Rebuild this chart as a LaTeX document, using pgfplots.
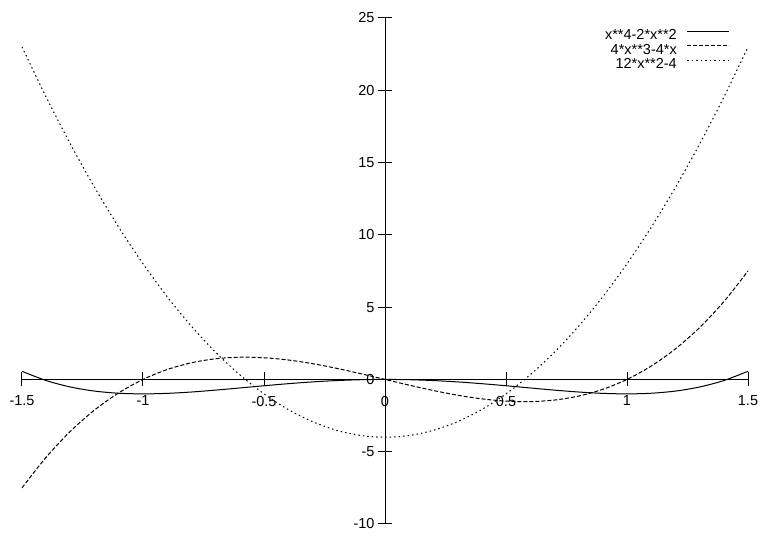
\documentclass[border=0pt]{standalone}
\usepackage{fontspec}
\setmainfont{Liberation Sans}
\usepackage{pgfplots}
\pgfplotsset{compat=1.18}
\begin{document}
\begin{tikzpicture}
\path[use as bounding box] (-22pt,-14pt) rectangle (742pt,524pt);
\begin{axis}[
  scale only axis,
  width=726pt, height=506pt,
  at={(0,0)}, anchor=south west,
  xmin=-1.5, xmax=1.5, ymin=-10, ymax=25,
  enlargelimits=false,
  axis lines=middle,
  axis line style={-, line width=1pt, black},
  every tick/.style={line width=1pt, black},
  major tick length=14pt,
  tick align=center,
  xtick={-1.5,-1,-0.5,0,0.5,1,1.5},
  xticklabels={-1.5,-1,-0.5,0,0.5,1,1.5},
  ytick={-10,-5,0,5,10,15,20,25},
  yticklabels={-10,-5,0,5,10,15,20,25},
  hide obscured x ticks=false,
  hide obscured y ticks=false,
  ticklabel style={font=\fontsize{14.5}{14.5}\selectfont},
  xticklabel style={yshift=-6pt},
  /pgf/number format/assume math mode=true,
  clip=false,
  legend cell align=right,
  legend plot pos=right,
  legend style={draw=none, fill=none, inner sep=0pt,
    at={(1,1)}, anchor=north east, xshift=-18pt, yshift=-11pt,
    font=\fontsize{14.5}{14.5}\selectfont,
    nodes={inner sep=0pt, text height=10.5pt, text depth=4pt},
    /tikz/column 1/.style={column sep=10pt}},
  legend image code/.code={\draw[#1] (0pt,5pt) -- (42pt,5pt);},
]
\addplot[black, line width=1pt, smooth] coordinates {
(-1.5,0.5625)(-1.4,-0.0784)(-1.3,-0.5239)(-1.2,-0.8064)(-1.1,-0.9559)(-1.0,-1)
(-0.9,-0.9639)(-0.8,-0.8704)(-0.7,-0.7399)(-0.6,-0.5904)(-0.5,-0.4375)(-0.4,-0.2944)
(-0.3,-0.1719)(-0.2,-0.0784)(-0.1,-0.0199)(0,0)
(0.1,-0.0199)(0.2,-0.0784)(0.3,-0.1719)(0.4,-0.2944)(0.5,-0.4375)(0.6,-0.5904)
(0.7,-0.7399)(0.8,-0.8704)(0.9,-0.9639)(1.0,-1)(1.1,-0.9559)(1.2,-0.8064)
(1.3,-0.5239)(1.4,-0.0784)(1.5,0.5625)};
\addlegendentry{x**4-2*x**2}
\addplot[black, line width=1pt, smooth, dash pattern=on 4pt off 2pt] coordinates {
(-1.5,-7.5)(-1.4,-5.376)(-1.3,-3.588)(-1.2,-2.112)(-1.1,-0.924)(-1.0,0)
(-0.9,0.684)(-0.8,1.152)(-0.7,1.428)(-0.6,1.536)(-0.5,1.5)(-0.4,1.344)
(-0.3,1.092)(-0.2,0.768)(-0.1,0.396)(0,0)
(0.1,-0.396)(0.2,-0.768)(0.3,-1.092)(0.4,-1.344)(0.5,-1.5)(0.6,-1.536)
(0.7,-1.428)(0.8,-1.152)(0.9,-0.684)(1.0,0)(1.1,0.924)(1.2,2.112)
(1.3,3.588)(1.4,5.376)(1.5,7.5)};
\addlegendentry{4*x**3-4*x}
\addplot[black, line width=1pt, smooth, dash pattern=on 1.5pt off 3pt] coordinates {
(-1.5,23)(-1.4,19.52)(-1.3,16.28)(-1.2,13.28)(-1.1,10.52)(-1.0,8)
(-0.9,5.72)(-0.8,3.68)(-0.7,1.88)(-0.6,0.32)(-0.5,-1)(-0.4,-2.08)
(-0.3,-2.92)(-0.2,-3.52)(-0.1,-3.88)(0,-4)
(0.1,-3.88)(0.2,-3.52)(0.3,-2.92)(0.4,-2.08)(0.5,-1)(0.6,0.32)
(0.7,1.88)(0.8,3.68)(0.9,5.72)(1.0,8)(1.1,10.52)(1.2,13.28)
(1.3,16.28)(1.4,19.52)(1.5,23)};
\addlegendentry{12*x**2-4}
\end{axis}
\end{tikzpicture}
\end{document}
